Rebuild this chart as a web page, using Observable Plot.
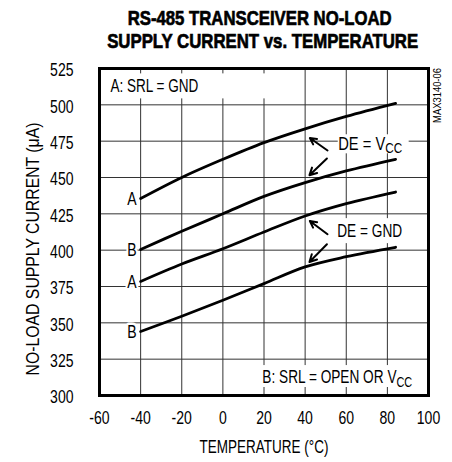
<!DOCTYPE html>
<html>
<head>
<meta charset="utf-8">
<script src="https://cdn.jsdelivr.net/npm/d3@7"></script>
<script src="https://cdn.jsdelivr.net/npm/@observablehq/plot@0.6"></script>
<style>
  body { margin: 0; background: white; width: 452px; }
  #title { height: 55px; box-sizing: border-box; padding-top: 6px; padding-left: 68px; text-align: center;
    font-family: "Liberation Sans", Arial, sans-serif;
    font-weight: bold; font-size: 21px; line-height: 23px; color: #000; white-space: nowrap;
    -webkit-text-stroke: 0.7px #000; }
  #title span { display: inline-block; transform-origin: 50% 50%; }
</style>
</head>
<body>
<div id="title"><div><span>RS-485 TRANSCEIVER NO-LOAD</span></div><div><span>SUPPLY CURRENT vs. TEMPERATURE</span></div></div>
<div id="chart"></div>
<script>
const FONT = '"Liberation Sans", Arial, sans-serif';

// Data
const temps = [-40, -20, 0, 20, 40, 60, 84];
const vccA = [435.5, 450, 462.5, 474, 483.5, 492, 501];
const vccB = [400.5, 413, 425, 437, 446.5, 454.5, 462.5];
const gndA = [378.5, 390.5, 401, 412.5, 423.5, 432, 440];
const gndB = [344, 354.5, 365.5, 377, 388.5, 395.5, 402];
const seriesIds = ["vccA", "vccB", "gndA", "gndB"];
const seriesLabels = ["A", "B", "A", "B"];
const seriesValues = [vccA, vccB, gndA, gndB];

const xTicks = [-60, -40, -20, 0, 20, 40, 60, 80, 100];
const yTicks = [300, 325, 350, 375, 400, 425, 450, 475, 500, 525];
const xGrid = [-40, -20, 0, 20, 40, 60, 80];
const yGrid = [325, 350, 375, 400, 425, 450, 475, 500];

const titleLines = ["RS-485 TRANSCEIVER NO-LOAD", "SUPPLY CURRENT vs. TEMPERATURE"];
const xLabel = "TEMPERATURE (°C)";
const yLabel = "NO-LOAD SUPPLY CURRENT (μA)";
const figCode = "MAX3140-06";

// Annotations (data coordinates)
const leftNotes = [
  {x: -54.7, y: 513, text: "A: SRL = GND"},
  {x: 56.1, y: 473, text: "DE = V_CC"},
  {x: 55.6, y: 413, text: "DE = GND"}
];
const rightNotes = [
  {x: 92.1, y: 312.4, text: "B: SRL = OPEN OR V_CC"}
];
const boxes = [
  {x1: -60, x2: 30, y1: 504.1, y2: 521.3},
  {x1: 10, x2: 100, y1: 305.5, y2: 320.6},
  {x1: 56.1, x2: 90.6, y1: 466.3, y2: 479.4},
  {x1: 56.1, x2: 90.6, y1: 404.5, y2: 421.7}
];
const arrows = [
  {x1: 50.9, y1: 468.6, x2: 42.3, y2: 477.2},
  {x1: 50.6, y1: 463.1, x2: 42.1, y2: 451.6},
  {x1: 50.9, y1: 411.0, x2: 42.3, y2: 420.1},
  {x1: 50.6, y1: 404.1, x2: 42.1, y2: 391.9}
];

// Target text widths (px) measured on the reference; other text is condensed uniformly
const textWidths = new Map([
  ["A: SRL = GND", 88], ["DE = V_CC", 64], ["DE = GND", 65], ["B: SRL = OPEN OR V_CC", 150],
  [xLabel, 129], [yLabel, 253], [figCode, 55]
]);
const titleWidths = [264, 311];
const defaultCondense = 0.78;

const rows = [];
seriesIds.forEach((id, k) => temps.forEach((t, i) => rows.push({id, t, v: seriesValues[k][i]})));
const curveLabels = seriesIds.map((id, k) => ({x: temps[0], y: seriesValues[k][0], text: seriesLabels[k]}));

const chart = Plot.plot({
  width: 452,
  height: 407,
  marginTop: 13,
  marginBottom: 67,
  marginLeft: 99,
  marginRight: 24,
  x: {domain: [-60, 100]},
  y: {domain: [300, 525]},
  style: {fontFamily: FONT, fontSize: "18px", color: "#000", background: "white"},
  marks: [
    Plot.ruleX(xGrid, {stroke: "#333", strokeWidth: 1}),
    Plot.ruleY(yGrid, {stroke: "#333", strokeWidth: 1}),
    Plot.rect(boxes, {x1: "x1", x2: "x2", y1: "y1", y2: "y2", fill: "white"}),
    Plot.line(rows, {x: "t", y: "v", z: "id", stroke: "black", strokeWidth: 2.8, curve: "catmull-rom"}),
    Plot.arrow(arrows, {x1: "x1", y1: "y1", x2: "x2", y2: "y2", stroke: "black", strokeWidth: 2, headLength: 6, headAngle: 55}),
    Plot.text(curveLabels, {x: "x", y: "y", text: "text", textAnchor: "end", dx: -4, dy: 1, fill: "black", stroke: "white", strokeWidth: 5, fontSize: 18}),
    Plot.text(leftNotes, {x: "x", y: "y", text: "text", textAnchor: "start", lineAnchor: "middle", fill: "black", fontSize: 17.5}),
    Plot.text(rightNotes, {x: "x", y: "y", text: "text", textAnchor: "end", lineAnchor: "middle", fill: "black", fontSize: 17.5}),
    Plot.frame({stroke: "black", strokeWidth: 3}),
    Plot.axisX({ticks: xTicks, tickSize: 0, tickPadding: 16, tickFormat: d => String(d), label: null, fontSize: 18}),
    Plot.axisY({ticks: yTicks, tickSize: 0, tickPadding: 26, tickFormat: d => String(d), label: null, fontSize: 18, dy: 2}),
    Plot.text([xLabel], {frameAnchor: "bottom", dy: 52, lineAnchor: "middle", textAnchor: "middle", fontSize: 17.5}),
    Plot.text([yLabel], {frameAnchor: "left", dx: -66, dy: 17, rotate: -90, lineAnchor: "middle", textAnchor: "middle", fontSize: 17.5}),
    Plot.text([figCode], {frameAnchor: "top-right", dx: 9.5, dy: 27, rotate: -90, lineAnchor: "middle", textAnchor: "middle", fontSize: 10})
  ]
});

document.getElementById("chart").appendChild(chart);

// Subscripts for V_CC and horizontal condensing (the reference uses a condensed face)
d3.select(chart).selectAll("text").each(function() {
  const orig = this.textContent;
  if (orig.includes("_CC") && this.children.length === 0) {
    const [a, b] = orig.split("_");
    const el = d3.select(this);
    el.text(null);
    el.append("tspan").text(a);
    el.append("tspan").attr("font-size", "0.8em").attr("dy", "0.25em").text(b);
  }
  const natural = this.getComputedTextLength();
  const target = textWidths.get(orig);
  const sx = target && natural > 0 ? target / natural : defaultCondense;
  const t = this.getAttribute("transform") || "";
  this.setAttribute("transform", t + ` scale(${sx},1)`);
});

document.querySelectorAll("#title span").forEach((s, i) => {
  const w = s.getBoundingClientRect().width;
  if (w > 0) s.style.transform = `scaleX(${titleWidths[i] / w})`;
});
</script>
</body>
</html>
